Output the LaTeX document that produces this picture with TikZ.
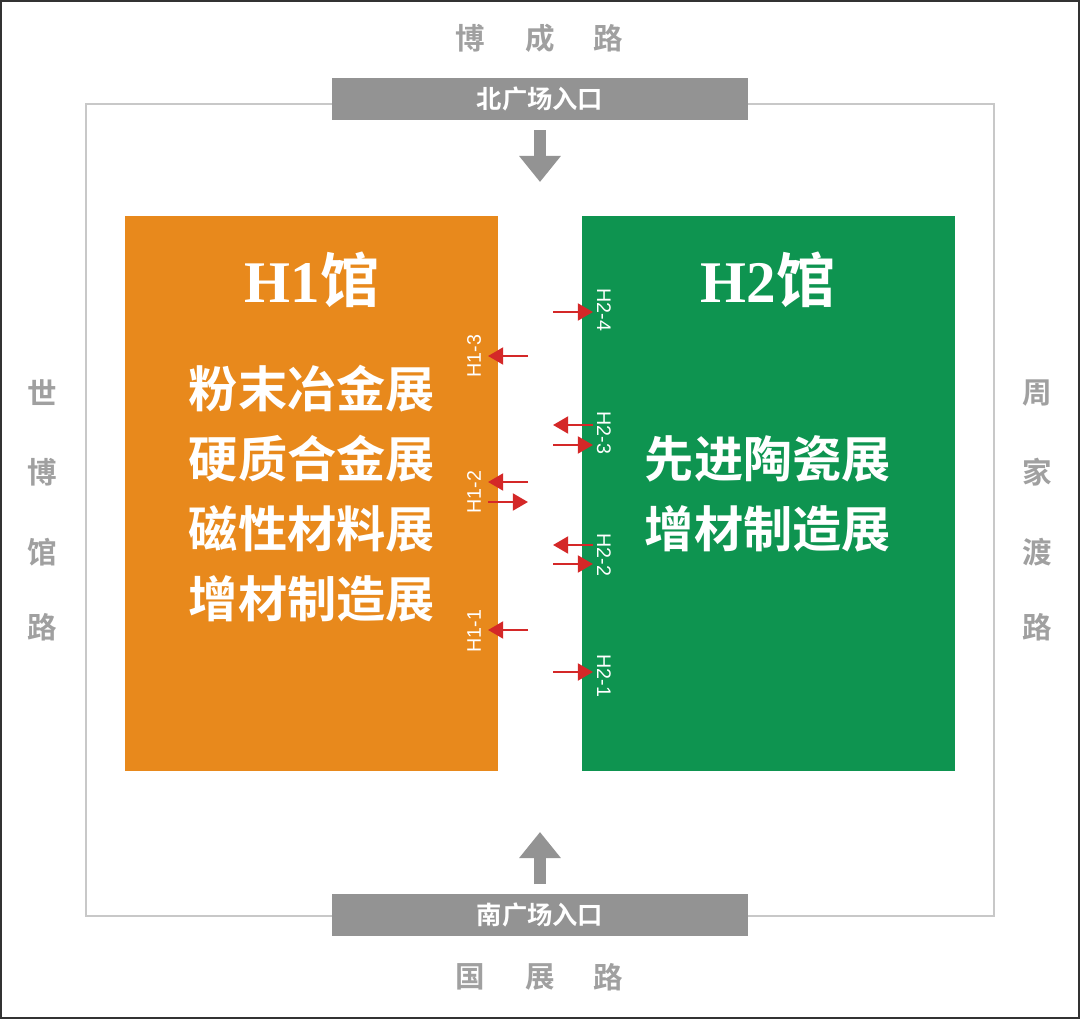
\documentclass[tikz,border=0pt]{standalone}
\usepackage{fontspec}
\setmainfont{Liberation Serif}
\newfontfamily\labfont{Liberation Sans}
\newfontfamily\cjk{Noto Sans CJK SC}[BoldFont={Noto Sans CJK SC Bold}]
\usetikzlibrary{arrows.meta}
\definecolor{hallorange}{RGB}{232,137,28}
\definecolor{hallgreen}{RGB}{14,148,80}
\definecolor{bargray}{RGB}{147,147,147}
\definecolor{roadgray}{RGB}{160,160,160}
\definecolor{framegray}{RGB}{200,200,200}
\definecolor{doorred}{RGB}{212,40,40}
\tikzset{
  hall/.style={minimum width=9.325cm,minimum height=13.875cm,inner sep=0pt},
  gatebar/.style={fill=bargray,minimum width=10.4cm,minimum height=1.05cm,inner sep=0pt,
    text=white,font=\cjk\bfseries\fontsize{18}{20}\selectfont},
  road/.style={text=roadgray,font=\cjk\bfseries\fontsize{21}{24}\selectfont,inner sep=0pt},
  halltitle/.style={text=white,font=\bfseries\fontsize{42}{44}\selectfont,inner sep=0pt},
  show/.style={text=white,font=\cjk\bfseries\fontsize{35}{40}\selectfont,inner sep=0pt},
  door/.style={text=white,font=\labfont\fontsize{14}{15}\selectfont,inner sep=0pt},
  doorarrow/.style={doorred,line width=2pt,-{Triangle[length=0.38cm,width=0.42cm]}},
  gatearrow/.style={bargray,line width=9.2pt,-{Triangle[length=0.65cm,width=1cm]}}
}
\begin{document}
\begin{tikzpicture}[x=0.025cm,y=-0.025cm]
  \useasboundingbox (0,0) rectangle (1080,1019);
  \fill[white] (0,0) rectangle (1080,1019);
  \draw[black!80,line width=1.4pt] (1,1) rectangle (1079,1018);
  % site frame
  \draw[framegray,line width=2.1pt] (86,104) rectangle (994,916);
  % roads
  \node[road] (rn1) at (470,38){博};
  \node[road] (rn2) at (540,38){成};
  \node[road] (rn3) at (608,38){路};
  \node[road] (rs1) at (470,977){国};
  \node[road] (rs2) at (540,977){展};
  \node[road] (rs3) at (608,977){路};
  \node[road] (rw1) at (42,393){世};
  \node[road] (rw2) at (42,472){博};
  \node[road] (rw3) at (42,552){馆};
  \node[road] (rw4) at (42,627){路};
  \node[road] (re1) at (1037,393){周};
  \node[road] (re2) at (1037,472){家};
  \node[road] (re3) at (1037,552){渡};
  \node[road] (re4) at (1037,627){路};
  % entrances
  \node[gatebar] (north) at (540,99){北广场入口};
  \node[gatebar] (south) at (540,915){南广场入口};
  \coordinate (n1) at (540,130);
  \coordinate (n2) at (540,182);
  \coordinate (s1) at (540,884);
  \coordinate (s2) at (540,832);
  \draw[gatearrow] (n1) -- (n2);
  \draw[gatearrow] (s1) -- (s2);
  % halls
  \node[hall,fill=hallorange] (h1) at (311.5,493.5){};
  \node[hall,fill=hallgreen] (h2) at (768.5,493.5){};
  \node[halltitle] (h1t) at (312,280){H1{\cjk 馆}};
  \node[halltitle] (h2t) at (768,280){H2{\cjk 馆}};
  \node[show] (s11) at (312,389){粉末冶金展};
  \node[show] (s12) at (312,459){硬质合金展};
  \node[show] (s13) at (312,529){磁性材料展};
  \node[show] (s14) at (312,599){增材制造展};
  \node[show] (s21) at (768,459){先进陶瓷展};
  \node[show] (s22) at (768,529){增材制造展};
  % doors of H1
  \node[door,rotate=90] (d13) at (474,356){H1-3};
  \node[door,rotate=90] (d12) at (474,492){H1-2};
  \node[door,rotate=90] (d11) at (474,631){H1-1};
  \coordinate (a13o) at (528,356);
  \coordinate (a13i) at (488,356);
  \coordinate (a12o) at (528,482);
  \coordinate (a12i) at (488,482);
  \coordinate (b12i) at (488,502);
  \coordinate (b12o) at (528,502);
  \coordinate (a11o) at (528,630);
  \coordinate (a11i) at (488,630);
  \draw[doorarrow] (a13o) -- (a13i);
  \draw[doorarrow] (a12o) -- (a12i);
  \draw[doorarrow] (b12i) -- (b12o);
  \draw[doorarrow] (a11o) -- (a11i);
  % doors of H2
  \node[door,rotate=-90] (d24) at (604,310){H2-4};
  \node[door,rotate=-90] (d23) at (604,433){H2-3};
  \node[door,rotate=-90] (d22) at (604,555){H2-2};
  \node[door,rotate=-90] (d21) at (604,676){H2-1};
  \coordinate (a24o) at (553,312);
  \coordinate (a24i) at (593,312);
  \coordinate (b23i) at (593,425);
  \coordinate (b23o) at (553,425);
  \coordinate (a23o) at (553,445);
  \coordinate (a23i) at (593,445);
  \coordinate (b22i) at (593,545);
  \coordinate (b22o) at (553,545);
  \coordinate (a22o) at (553,564);
  \coordinate (a22i) at (593,564);
  \coordinate (a21o) at (553,672);
  \coordinate (a21i) at (593,672);
  \draw[doorarrow] (a24o) -- (a24i);
  \draw[doorarrow] (b23i) -- (b23o);
  \draw[doorarrow] (a23o) -- (a23i);
  \draw[doorarrow] (b22i) -- (b22o);
  \draw[doorarrow] (a22o) -- (a22i);
  \draw[doorarrow] (a21o) -- (a21i);
\end{tikzpicture}
\end{document}
